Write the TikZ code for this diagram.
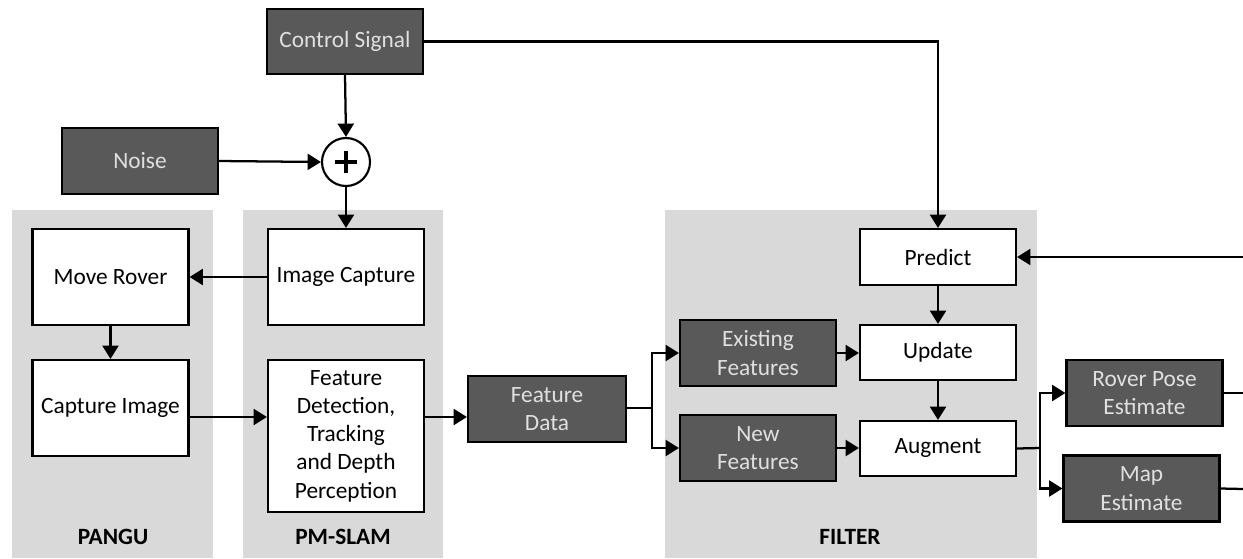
\documentclass[tikz,border=0pt]{standalone}
\usepackage{fontspec}
\setmainfont{Carlito}
\usetikzlibrary{arrows.meta}
\definecolor{panelgray}{HTML}{D9D9D9}
\definecolor{darkbox}{HTML}{595959}
\definecolor{lighttext}{HTML}{E0E0E0}
\tikzset{
  box/.style={draw=black, line width=1.6pt, fill=white, align=center, inner sep=1pt,
    font=\fontsize{17.5}{21.2}\selectfont, minimum width=117pt},
  darkbox/.style={box, fill=darkbox, text=lighttext},
  plabel/.style={font=\fontsize{17.5}{21.2}\selectfont\bfseries},
  arr/.style={line width=1.7pt, -{Triangle[length=10pt,width=12pt]}},
  ln/.style={line width=1.7pt},
}
\begin{document}
\begin{tikzpicture}[x=0.75pt,y=-0.75pt]
\useasboundingbox (0,0) rectangle (1243,558);
% panels
\fill[panelgray] (12,210) rectangle (213,558);
\fill[panelgray] (243,210) rectangle (443,558);
\fill[panelgray] (665,210) rectangle (1037,558);
\node[plabel] (lpangu) at (113,537) {PANGU};
\node[plabel] (lpms) at (343,537) {PM-SLAM};
\node[plabel] (lfilter) at (850,537) {FILTER};
% nodes
\node[darkbox, minimum height=48.75pt] (cs) at (345,41.5) {Control Signal};
\node[darkbox, minimum height=49.5pt] (noise) at (140,161) {Noise};
\node[draw=black, line width=1.6pt, fill=white, circle, minimum size=36pt, inner sep=0pt] (plus) at (346,162) {};
\draw[line width=3pt] ([xshift=-8.5pt]plus.center) -- ([xshift=8.5pt]plus.center)
  ([yshift=-8.5pt]plus.center) -- ([yshift=8.5pt]plus.center);
\node[box, minimum height=72pt] (mr) at (110.5,277) {Move Rover};
\node[box, minimum height=72pt] (ic) at (346,277) {Image Capture};
\node[box, minimum height=72pt] (ci) at (110.5,408) {Capture Image};
\node[box, minimum height=114pt] (fd) at (346,436) {Feature\\Detection,\\Tracking\\and Depth\\Perception};
\node[darkbox, minimum width=118.5pt, minimum height=49.5pt] (fdata) at (547,409) {Feature\\Data};
\node[box, minimum height=42pt] (pred) at (938,257) {Predict};
\node[box, minimum height=41.25pt] (upd) at (938,352.5) {Update};
\node[box, minimum height=41.25pt] (aug) at (938,448.5) {Augment};
\node[darkbox, minimum height=49.5pt] (ef) at (758,353) {Existing\\Features};
\node[darkbox, minimum height=49.5pt] (nf) at (758,448) {New\\Features};
\node[darkbox, minimum height=49.5pt] (rp) at (1144.5,393) {Rover Pose\\Estimate};
\node[darkbox, minimum height=49.5pt] (me) at (1141.5,488.5) {Map\\Estimate};
% coordinates
\coordinate (split1) at (652,408);
\coordinate (split2) at (1040,448);
\coordinate (inR) at (1243,257);
\coordinate (outRP) at (1243,393);
\coordinate (outME) at (1243,489);
% connectors
\draw[arr] (cs.east) -| (pred.north);
\draw[arr] (cs.south) -- (plus.north);
\draw[arr] (noise.east) -- (plus.west);
\draw[arr] (plus.south) -- (ic.north);
\draw[arr] (ic.west) -- (mr.east);
\draw[arr] (mr.south) -- (ci.north);
\draw[arr] (ci.east |- 0,417) -- (fd.west |- 0,417);
\draw[arr] (fd.east |- 0,417) -- (fdata.west |- 0,417);
\draw[ln] (fdata.east |- split1) -- (split1);
\draw[arr] (split1) |- (ef.west);
\draw[arr] (split1) |- (nf.west);
\draw[arr] (ef.east) -- (upd.west |- ef.east);
\draw[arr] (nf.east) -- (aug.west |- nf.east);
\draw[arr] (pred.south) -- (upd.north);
\draw[arr] (upd.south) -- (aug.north);
\draw[ln] (aug.east) -- (split2);
\draw[arr] (split2) |- (rp.west);
\draw[arr] (split2) |- (me.west);
\draw[ln] (rp.east) -- (outRP);
\draw[ln] (me.east) -- (outME);
\draw[arr] (inR) -- (pred.east);
\end{tikzpicture}
\end{document}
